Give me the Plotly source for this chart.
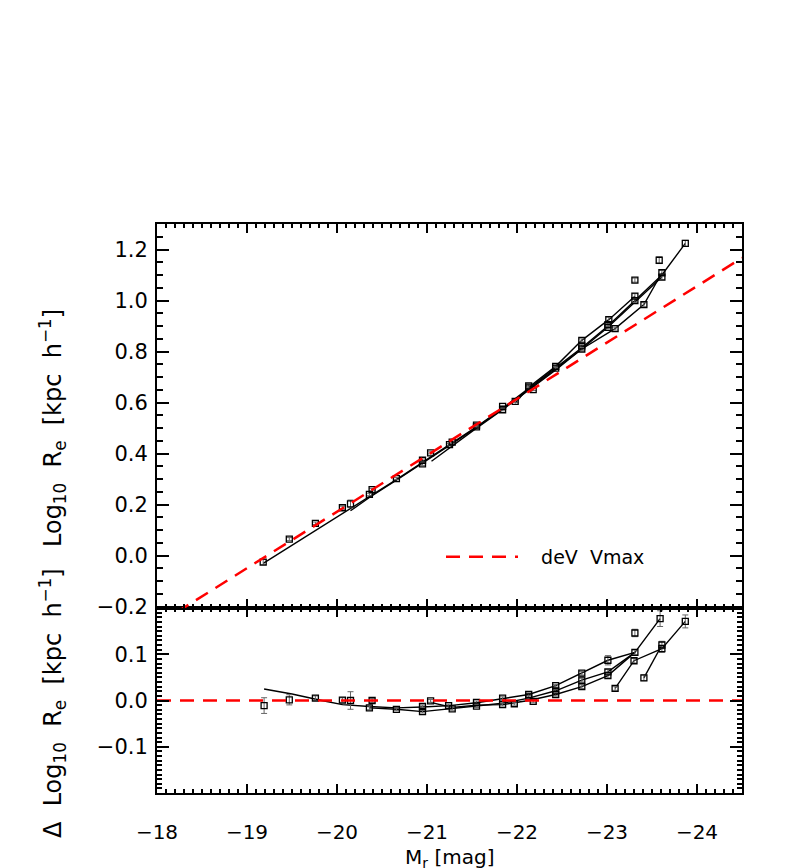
import plotly.graph_objects as go

# ---- top panel: Log10 Re vs Mr, measured points (open squares with errors) ----
top_mag = [-19.18, -19.47, -19.76, -20.06, -20.15, -20.36, -20.39, -20.66, -20.95, -20.95,
           -21.04, -21.25, -21.28, -21.55, -21.55, -21.84, -21.84, -21.98, -22.13, -22.13,
           -22.18, -22.43, -22.43, -22.72, -22.72, -22.72, -23.01, -23.01, -23.02, -23.09,
           -23.31, -23.31, -23.31, -23.41, -23.58, -23.61, -23.61, -23.87]
top_logre = [-0.025, 0.065, 0.127, 0.188, 0.203, 0.240, 0.259, 0.302, 0.360, 0.374,
             0.403, 0.435, 0.445, 0.505, 0.512, 0.572, 0.585, 0.605, 0.658, 0.665,
             0.651, 0.735, 0.742, 0.810, 0.822, 0.844, 0.895, 0.906, 0.925, 0.890,
             1.000, 1.017, 1.080, 0.984, 1.158, 1.092, 1.109, 1.224]
top_err = [0.010, 0.006, 0.005, 0.006, 0.015, 0.005, 0.005, 0.004, 0.006, 0.005,
           0.004, 0.004, 0.004, 0.004, 0.004, 0.004, 0.004, 0.004, 0.004, 0.004,
           0.004, 0.004, 0.004, 0.005, 0.005, 0.006, 0.006, 0.006, 0.010, 0.006,
           0.008, 0.010, 0.008, 0.008, 0.013, 0.010, 0.010, 0.012]

# sample curves (top)
curve1_mag = [-19.18, -19.76, -20.36, -20.66, -20.95, -21.25, -21.55, -21.84, -22.13,
              -22.43, -22.72, -23.01, -23.31, -23.61, -23.87]
curve1_logre = [-0.030, 0.098, 0.232, 0.298, 0.366, 0.436, 0.505, 0.578, 0.655,
                0.735, 0.815, 0.900, 1.000, 1.100, 1.224]
curve2_mag = [-20.15, -20.36, -20.66, -20.95, -21.25, -21.55, -21.84, -22.13, -22.43,
              -22.72, -23.01, -23.31, -23.61]
curve2_logre = [0.176, 0.228, 0.296, 0.362, 0.432, 0.503, 0.575, 0.652, 0.732,
                0.810, 0.895, 0.992, 1.092]
curve3_mag = [-21.05, -21.28, -21.55, -21.84, -22.13, -22.43, -22.72, -23.09, -23.41, -23.61]
curve3_logre = [0.370, 0.430, 0.500, 0.572, 0.648, 0.728, 0.810, 0.890, 0.984, 1.109]
curve4_mag = [-21.98, -22.13, -22.43, -22.72, -23.02, -23.31]
curve4_logre = [0.598, 0.660, 0.742, 0.844, 0.925, 1.017]

# deV Vmax relation (red dashed)
dev_mag = [-18.0, -24.5]
dev_logre = [-0.270, 1.167]

# ---- bottom panel: residuals ----
res_mag = [-19.19, -19.47, -19.76, -20.06, -20.15, -20.36, -20.39, -20.66, -20.95, -20.95,
           -21.04, -21.24, -21.28, -21.55, -21.55, -21.84, -21.84, -21.97, -22.13, -22.13,
           -22.18, -22.43, -22.43, -22.43, -22.72, -22.72, -22.72, -23.01, -23.01, -23.01,
           -23.09, -23.30, -23.31, -23.31, -23.41, -23.59, -23.61, -23.61, -23.87]
res_val = [-0.011, 0.0015, 0.005, 0.001, 0.000, -0.016, 0.000, -0.019, -0.013, -0.024,
           -0.001, -0.011, -0.018, -0.004, -0.012, 0.005, -0.009, -0.007, 0.013, 0.008,
           -0.002, 0.032, 0.021, 0.013, 0.059, 0.044, 0.030, 0.087, 0.062, 0.054,
           0.026, 0.086, 0.104, 0.146, 0.049, 0.177, 0.120, 0.112, 0.171]
res_err = [0.017, 0.011, 0.005, 0.005, 0.019, 0.004, 0.004, 0.003, 0.003, 0.003,
           0.003, 0.003, 0.003, 0.003, 0.003, 0.003, 0.003, 0.003, 0.003, 0.003,
           0.003, 0.003, 0.003, 0.003, 0.004, 0.004, 0.004, 0.010, 0.005, 0.005,
           0.004, 0.005, 0.005, 0.008, 0.006, 0.017, 0.008, 0.008, 0.014]

rcurve1_mag = [-19.19, -19.50, -19.83, -20.06, -20.36, -20.66, -20.95, -21.25, -21.55,
               -21.84, -22.13, -22.43, -22.72, -23.01, -23.31, -23.59]
rcurve1_val = [0.025, 0.014, 0.000, -0.009, -0.013, -0.016, -0.014, -0.011, -0.005,
               0.004, 0.013, 0.032, 0.059, 0.087, 0.104, 0.177]
rcurve2_mag = [-20.36, -20.66, -20.95, -21.25, -21.55, -21.84, -22.13, -22.43, -22.72,
               -23.01, -23.31]
rcurve2_val = [-0.016, -0.019, -0.024, -0.018, -0.012, -0.006, 0.005, 0.021, 0.044,
               0.062, 0.104]
rcurve3_mag = [-21.04, -21.28, -21.55, -21.84, -22.13, -22.43, -22.72, -23.01, -23.31]
rcurve3_val = [-0.004, -0.015, -0.010, -0.009, 0.000, 0.013, 0.030, 0.054, 0.104]
rcurve4_mag = [-23.09, -23.30, -23.61, -23.87]
rcurve4_val = [0.026, 0.086, 0.112, 0.171]
rcurve5_mag = [-23.41, -23.61]
rcurve5_val = [0.049, 0.120]

zero_mag = [-18.0, -24.5]
zero_val = [0.0, 0.0]

mag_ticks = [-18, -19, -20, -21, -22, -23, -24]

FONT = "DejaVu Sans"
NB = "\u00a0"

fig = go.Figure()

# top panel curves
for cm, cv in [(curve1_mag, curve1_logre), (curve2_mag, curve2_logre),
               (curve3_mag, curve3_logre), (curve4_mag, curve4_logre)]:
    fig.add_trace(go.Scatter(x=cm, y=cv, mode="lines", xaxis="x2", yaxis="y2",
                             line=dict(color="black", width=1.4), showlegend=False,
                             hoverinfo="skip"))

fig.add_trace(go.Scatter(
    x=top_mag, y=top_logre, mode="markers", xaxis="x2", yaxis="y2",
    marker=dict(symbol="square-open", size=6, color="black", line=dict(width=1.3)),
    error_y=dict(type="data", array=top_err, color="#666666", thickness=1, width=3),
    showlegend=False))

fig.add_trace(go.Scatter(
    x=dev_mag, y=dev_logre, mode="lines", xaxis="x2", yaxis="y2",
    line=dict(color="#ff0000", width=2.5, dash="14px,9px"),
    name=NB * 3 + "deV" + NB * 2 + "Vmax", showlegend=True))

# bottom panel
for cm, cv in [(rcurve1_mag, rcurve1_val), (rcurve2_mag, rcurve2_val),
               (rcurve3_mag, rcurve3_val), (rcurve4_mag, rcurve4_val),
               (rcurve5_mag, rcurve5_val)]:
    fig.add_trace(go.Scatter(x=cm, y=cv, mode="lines", xaxis="x", yaxis="y",
                             line=dict(color="black", width=1.4), showlegend=False,
                             hoverinfo="skip"))

fig.add_trace(go.Scatter(
    x=res_mag, y=res_val, mode="markers", xaxis="x", yaxis="y",
    marker=dict(symbol="square-open", size=6, color="black", line=dict(width=1.3)),
    error_y=dict(type="data", array=res_err, color="#666666", thickness=1, width=3),
    showlegend=False))

fig.add_trace(go.Scatter(
    x=zero_mag, y=zero_val, mode="lines", xaxis="x", yaxis="y",
    line=dict(color="#ff0000", width=2.5, dash="14px,9px"), showlegend=False))

# full-window figure (body margin removed in post_script below)
W, H = 789, 868
L, R, T, B = 157, 47, 224, 75
pw, ph = W - L - R, H - T - B
split = 185 / ph

axis_common = dict(showline=True, linewidth=2, linecolor="black", mirror="allticks",
                   ticks="inside", tickcolor="black", showgrid=False, zeroline=False,
                   automargin=False)

ytitle_x = (52 - L) / pw


def ypaper(py):
    # py is a pixel row from the top of the figure
    return (T + ph - py) / ph


fig.update_layout(
    width=W, height=H,
    margin=dict(l=L, r=R, t=T, b=B),
    plot_bgcolor="white", paper_bgcolor="white",
    font=dict(family=FONT, size=20, color="black"),
    xaxis=dict(domain=[0, 1], anchor="y", range=[-18, -24.5], tickvals=mag_ticks,
               ticklen=9, tickwidth=1.5, ticklabelstandoff=20,
               minor=dict(ticks="inside", dtick=0.1, ticklen=4, tickcolor="black"),
               **axis_common),
    xaxis2=dict(domain=[0, 1], anchor="y2", matches="x", range=[-18, -24.5],
                tickvals=mag_ticks, showticklabels=False, ticklen=9, tickwidth=1.5,
                minor=dict(ticks="inside", dtick=0.1, ticklen=4, tickcolor="black"),
                **axis_common),
    yaxis=dict(domain=[0, split], anchor="x", range=[-0.2, 0.2],
               tickvals=[-0.1, 0.0, 0.1], tickformat=".1f", ticklen=12, tickwidth=1.5,
               ticklabelstandoff=3, tickfont=dict(size=21),
               minor=dict(ticks="inside", dtick=0.01, ticklen=5, tickcolor="black"),
               **axis_common),
    yaxis2=dict(domain=[split, 1], anchor="x2", range=[-0.205, 1.3],
                tickvals=[-0.2, 0.0, 0.2, 0.4, 0.6, 0.8, 1.0, 1.2], tickformat=".1f",
                ticklen=12, tickwidth=1.5, ticklabelstandoff=3, tickfont=dict(size=21),
                minor=dict(ticks="inside", dtick=0.05, ticklen=6, tickcolor="black"),
                **axis_common),
    legend=dict(x=(441 - L) / pw, y=ypaper(557), xanchor="left", yanchor="middle",
                bgcolor="rgba(0,0,0,0)", itemwidth=72, font=dict(size=19)),
    annotations=[
        dict(text="Log<sub>10</sub>" + NB * 2 + "R<sub>e</sub>" + NB * 2 + "[kpc" + NB * 2
             + "h<sup>−1</sup>]",
             textangle=-90, xref="paper", yref="paper", x=ytitle_x, y=ypaper(428),
             xanchor="center", yanchor="middle", showarrow=False, font=dict(size=24)),
        dict(text="Δ" + NB * 2 + "Log<sub>10</sub>" + NB * 2 + "R<sub>e</sub>" + NB * 2
             + "[kpc" + NB * 2 + "h<sup>−1</sup>]",
             textangle=-90, xref="paper", yref="paper", x=ytitle_x, y=ypaper(703),
             xanchor="center", yanchor="middle", showarrow=False, font=dict(size=24)),
        dict(text="M<sub>r</sub> [mag]", xref="paper", yref="paper", x=0.5,
             y=ypaper(858), xanchor="center", yanchor="middle", showarrow=False,
             font=dict(size=20)),
    ],
)

fig.write_html("out.html", config={"displayModeBar": False},
               post_script="document.body.style.margin='0';")
